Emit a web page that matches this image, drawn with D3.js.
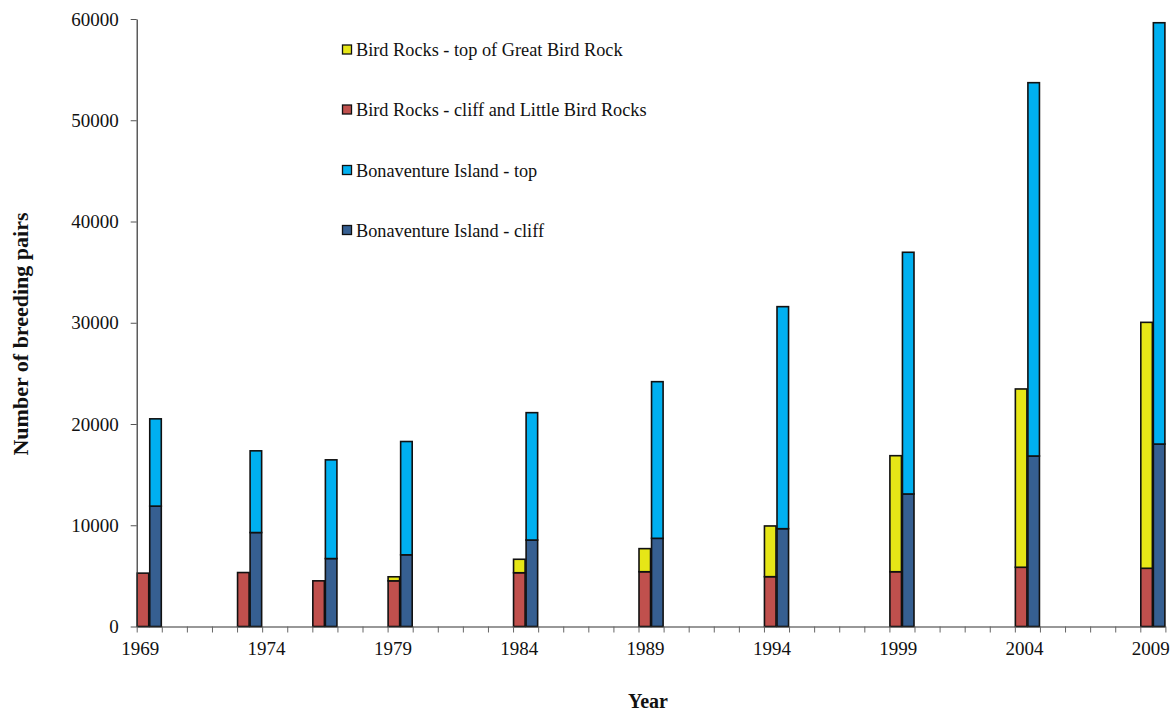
<!DOCTYPE html>
<html>
<head>
<meta charset="utf-8">
<script src="https://cdn.jsdelivr.net/npm/d3@7/dist/d3.min.js"></script>
<style>
  html, body { margin: 0; padding: 0; background: #ffffff; }
  svg { display: block; }
  text { font-family: "Liberation Serif", "Times New Roman", serif; fill: #111; }
</style>
</head>
<body>
<svg id="chart" width="1172" height="717"></svg>
<script>
// Survey years with counts (breeding pairs)
const years = [1969, 1973, 1976, 1979, 1984, 1989, 1994, 1999, 2004, 2009];

// Bird Rocks colony (left bar of each pair), stacked bottom to top
const birdRocksCliff = [5270, 5330, 4510, 4510, 5310, 5410, 4920, 5410, 5850, 5750];
const birdRocksTop   = [0, 0, 0, 400, 1330, 2280, 5010, 11460, 17610, 24290];

// Bonaventure Island colony (right bar of each pair), stacked bottom to top
const bonaventureCliff = [11890, 9280, 6710, 7080, 8540, 8710, 9660, 13090, 16840, 18020];
const bonaventureTop   = [8620, 8070, 9750, 11190, 12580, 15470, 21930, 23870, 36870, 41610];

// Axis labels
const yTicks = [0, 10000, 20000, 30000, 40000, 50000, 60000];
const yearLabels = [1969, 1974, 1979, 1984, 1989, 1994, 1999, 2004, 2009];
const firstYear = 1969, lastYear = 2009;

// Legend entries, top to bottom
const legendLabels = [
  "Bird Rocks - top of Great Bird Rock",
  "Bird Rocks - cliff and Little Bird Rocks",
  "Bonaventure Island - top",
  "Bonaventure Island - cliff"
];

const colors = {
  brTop: "#e6e617",
  brCliff: "#c0504d",
  bonTop: "#00b0f0",
  bonCliff: "#365f91"
};
const legendColors = [colors.brTop, colors.brCliff, colors.bonTop, colors.bonCliff];

const svg = d3.select("#chart");

const x = d3.scaleLinear().domain([firstYear, lastYear + 1]).range([136.7, 1165.4]);
const y = d3.scaleLinear().domain([0, 60000]).range([626.5, 19]);
// Year labels sit slightly off the category centres
const labelX = d3.scaleLinear()
  .domain([firstYear, lastYear])
  .range([x(firstYear + 0.5) - 9, x(lastYear + 0.5) - 2]);

// Build stacked segments: each year has two bars
const segments = [];
years.forEach((yr, i) => {
  segments.push({ x0: yr, x1: yr + 0.5, lo: 0, hi: birdRocksCliff[i], fill: colors.brCliff });
  if (birdRocksTop[i] > 0)
    segments.push({ x0: yr, x1: yr + 0.5, lo: birdRocksCliff[i], hi: birdRocksCliff[i] + birdRocksTop[i], fill: colors.brTop });
  segments.push({ x0: yr + 0.5, x1: yr + 1, lo: 0, hi: bonaventureCliff[i], fill: colors.bonCliff });
  segments.push({ x0: yr + 0.5, x1: yr + 1, lo: bonaventureCliff[i], hi: bonaventureCliff[i] + bonaventureTop[i], fill: colors.bonTop });
});

svg.append("g")
  .selectAll("rect")
  .data(segments)
  .join("rect")
  .attr("x", d => x(d.x0) + 0.5)
  .attr("width", d => x(d.x1) - x(d.x0) - 1)
  .attr("y", d => y(d.hi))
  .attr("height", d => y(d.lo) - y(d.hi))
  .attr("fill", d => d.fill)
  .attr("stroke", "#111")
  .attr("stroke-width", 1.6);

// Y axis
const yAxis = svg.append("g")
  .attr("transform", `translate(${x(firstYear)},0)`)
  .call(d3.axisLeft(y).tickValues(yTicks).tickFormat(d3.format("d")).tickSize(6).tickPadding(12).tickSizeOuter(0));
yAxis.select(".domain").attr("stroke", "#333").attr("stroke-width", 1.2);
yAxis.selectAll(".tick line").attr("stroke", "#555");
yAxis.selectAll(".tick text")
  .style("font-family", "'Liberation Serif', serif")
  .style("font-size", "19px")
  .attr("fill", "#111");

// X axis: a tick at every year boundary
const xAxis = svg.append("g")
  .attr("transform", `translate(0,${y(0)})`)
  .call(d3.axisBottom(x).tickValues(d3.range(firstYear, lastYear + 2)).tickFormat("").tickSize(6).tickSizeOuter(0));
xAxis.select(".domain").attr("stroke", "#333").attr("stroke-width", 1.2);
xAxis.selectAll(".tick line").attr("stroke", "#666");

// Year labels every five years
svg.append("g")
  .selectAll("text")
  .data(yearLabels)
  .join("text")
  .attr("x", d => labelX(d))
  .attr("y", 655)
  .attr("text-anchor", "middle")
  .style("font-size", "19px")
  .text(d => d);

// Axis titles
svg.append("text")
  .attr("x", 648)
  .attr("y", 708)
  .attr("text-anchor", "middle")
  .style("font-size", "20px")
  .style("font-weight", "bold")
  .text("Year");

svg.append("text")
  .attr("transform", "translate(28,334) rotate(-90)")
  .attr("text-anchor", "middle")
  .style("font-size", "22px")
  .style("font-weight", "bold")
  .text("Number of breeding pairs");

// Legend
const legend = svg.append("g");
const legendBase = [56, 116, 176.5, 236.5];
legendLabels.forEach((lbl, i) => {
  legend.append("rect")
    .attr("x", 342.5)
    .attr("y", legendBase[i] - 11)
    .attr("width", 9)
    .attr("height", 9)
    .attr("fill", legendColors[i])
    .attr("stroke", "#111")
    .attr("stroke-width", 1.3);
  legend.append("text")
    .attr("x", 356)
    .attr("y", legendBase[i])
    .style("font-size", "18.3px")
    .text(lbl);
});
</script>
</body>
</html>
